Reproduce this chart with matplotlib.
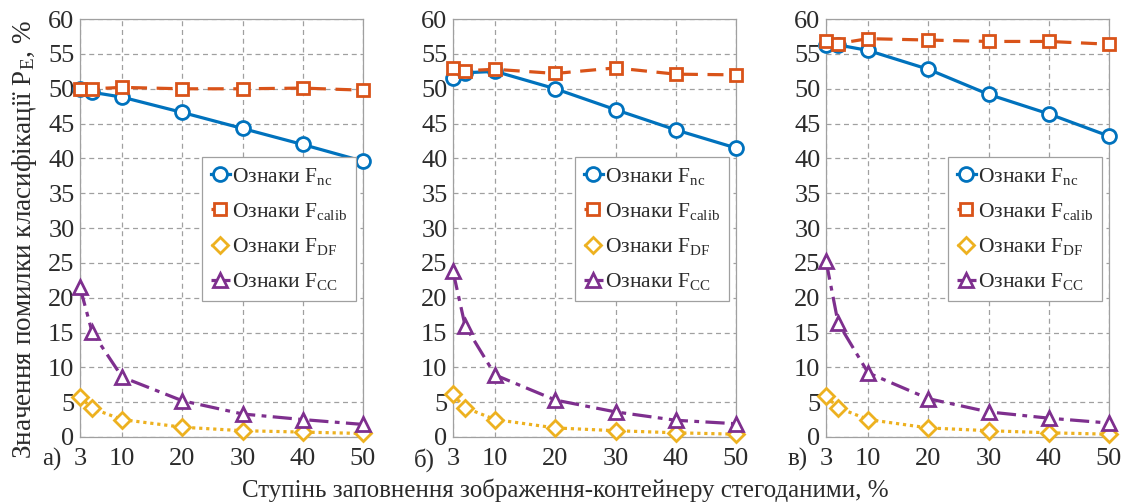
import matplotlib

matplotlib.use("Agg")
import matplotlib.pyplot as plt

plt.rcParams["font.family"] = ["Liberation Serif", "DejaVu Serif"]
plt.rcParams["mathtext.fontset"] = "custom"
plt.rcParams["mathtext.rm"] = "Liberation Serif"
plt.rcParams["mathtext.it"] = "Liberation Serif:italic"

# steganographic fill ratio, %
fill = [3, 5, 10, 20, 30, 40, 50]
xticks = [3, 10, 20, 30, 40, 50]
panel_tags = ["а)", "б)", "в)"]

# classification error P_E, % (panels а, б, в)
err_nc = [
    [50.0, 49.5, 48.8, 46.6, 44.3, 42.0, 39.6],
    [51.6, 52.3, 52.5, 50.0, 47.0, 44.1, 41.5],
    [56.3, 56.3, 55.5, 52.8, 49.2, 46.4, 43.2],
]
err_calib = [
    [50.0, 50.0, 50.2, 50.0, 50.0, 50.1, 49.8],
    [53.0, 52.6, 52.8, 52.2, 53.0, 52.1, 52.0],
    [56.8, 56.5, 57.2, 57.0, 56.8, 56.8, 56.4],
]
err_df = [
    [5.8, 4.1, 2.5, 1.4, 0.9, 0.7, 0.5],
    [6.1, 4.2, 2.5, 1.3, 0.9, 0.6, 0.4],
    [5.9, 4.2, 2.5, 1.3, 0.9, 0.6, 0.4],
]
err_cc = [
    [21.5, 15.1, 8.6, 5.2, 3.3, 2.5, 1.8],
    [23.8, 16.0, 8.9, 5.3, 3.6, 2.4, 1.9],
    [25.3, 16.4, 9.2, 5.5, 3.6, 2.7, 2.0],
]

series = [
    (err_nc, r"Ознаки F$_{\mathrm{nc}}$", "#0072BD", "-", "o", 10),
    (err_calib, r"Ознаки F$_{\mathrm{calib}}$", "#D95319", (0, (5, 3)), "s", 9),
    (err_df, r"Ознаки F$_{\mathrm{DF}}$", "#EDB120", (0, (1, 1.2)), "D", 8),
    (err_cc, r"Ознаки F$_{\mathrm{CC}}$", "#7E2F8E", (0, (6, 2, 1.5, 2)), "^", 10),
]

TEXT = "#2b2b2b"

fig = plt.figure(figsize=(11.3, 5.04), dpi=100)
lefts = [0.0708, 0.4009, 0.7310]
for k, left in enumerate(lefts):
    ax = fig.add_axes([left, 0.133, 0.2504, 0.829])
    for data, label, color, ls, mk, ms in series:
        ax.plot(fill, data[k], color=color, ls=ls, lw=2.3, marker=mk, ms=ms,
                mfc="white", mec=color, mew=2.0, label=label, clip_on=False,
                zorder=3)
    ax.set_xlim(3, 50)
    ax.set_ylim(0, 60)
    ax.set_xticks(xticks)
    ax.set_yticks(range(0, 61, 5))
    ax.grid(True, color="#a0a0a0", ls=(0, (4, 3)), lw=0.9)
    ax.set_axisbelow(True)
    for sp in ax.spines.values():
        sp.set_color("#a0a0a0")
        sp.set_linewidth(0.9)
    ax.tick_params(length=0, labelsize=19, colors=TEXT, pad=4)
    ax.tick_params(axis="x", pad=8)
    leg = ax.legend(loc="upper right", bbox_to_anchor=(0.975, 0.670),
                    borderaxespad=0, fontsize=15.5, handlelength=0.9,
                    handletextpad=0.1, labelspacing=0.66, borderpad=0.4,
                    fancybox=False, framealpha=1, edgecolor="#a0a0a0")
    leg.get_frame().set_linewidth(0.9)
    leg.set_zorder(5)
    for t in leg.get_texts():
        t.set_color(TEXT)
    ax.text(-0.064, -0.055, panel_tags[k], transform=ax.transAxes,
            ha="right", va="center", fontsize=18, color=TEXT)

fig.text(0.022, 0.525, r"Значення помилки класифікації P$_{\mathrm{E}}$, %",
         rotation=90, ha="center", va="center", fontsize=19.5, color=TEXT)
fig.text(0.5, 0.028, "Ступінь заповнення зображення-контейнеру стегоданими, %",
         ha="center", va="center", fontsize=18, color=TEXT)

fig.savefig("out.png", dpi=100)
